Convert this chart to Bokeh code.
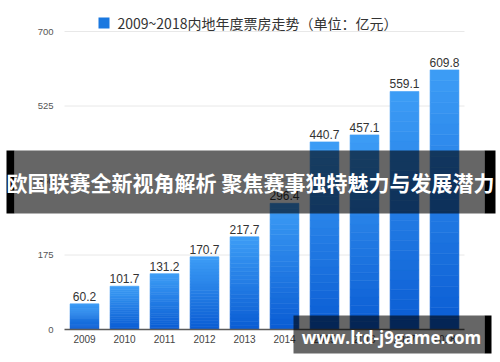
from bokeh.plotting import figure
from bokeh.models import Range1d, FixedTicker, Label, BoxAnnotation, ColumnDataSource
from bokeh.embed import file_html
from bokeh.resources import INLINE
from bokeh.core.properties import value

# ---- data ----
years = ["2009", "2010", "2011", "2012", "2013", "2014", "2015", "2016", "2017", "2018"]
box_office = [60.2, 101.7, 131.2, 170.7, 217.7, 296.4, 440.7, 457.1, 559.1, 609.8]
y_ticks = [0, 175, 350, 525, 700]
legend_text = "2009~2018内地年度票房走势（单位：亿元）"
banner_text = "欧国联赛全新视角解析 聚焦赛事独特魅力与发展潜力"
watermark_text = "www.ltd-j9game.com"

# ---- geometry (pixels) ----
W, H = 500, 362
X0_PX, PX_PER_X = 84, 40.0          # centre of first bar, px per category
Y0_PX, PX_PER_Y = 329, 298 / 700.0  # baseline, px per unit
BAR_W = 0.72

TOP_COLOR = (0x3d, 0x9d, 0xf6)
BOTTOM_COLOR = (0x0a, 0x5c, 0xd3)
N_SLICES = 24

def mix(t):
    r = [int(round(BOTTOM_COLOR[j] + (TOP_COLOR[j] - BOTTOM_COLOR[j]) * t)) for j in range(3)]
    return "#%02x%02x%02x" % tuple(r)

idx = list(range(len(years)))

left, right, bottom, top, colors = [], [], [], [], []
for i, v in zip(idx, box_office):
    for k in range(N_SLICES):
        left.append(i - BAR_W / 2)
        right.append(i + BAR_W / 2)
        bottom.append(v * k / N_SLICES)
        top.append(v * (k + 1) / N_SLICES)
        colors.append(mix((k + 0.5) / N_SLICES))
bars = ColumnDataSource(dict(left=left, right=right, bottom=bottom, top=top, color=colors))

x_range = Range1d(-X0_PX / PX_PER_X, (W - X0_PX) / PX_PER_X)
y_range = Range1d(-(H - Y0_PX) / PX_PER_Y, Y0_PX / PX_PER_Y)

p = figure(width=W, height=H, output_backend="svg", toolbar_location=None,
           x_range=x_range, y_range=y_range, min_border=0)
p.outline_line_color = None
p.background_fill_color = "white"
p.border_fill_color = "white"
p.xgrid.visible = False
p.ygrid.visible = False

# horizontal grid lines over the category span
x_lo, x_hi = -0.5, len(years) - 0.5
p.segment(x0=[x_lo] * (len(y_ticks) - 1), x1=[x_hi] * (len(y_ticks) - 1),
          y0=y_ticks[1:], y1=y_ticks[1:], line_color="#e8e8e8", line_width=1)

p.quad(left="left", right="right", bottom="bottom", top="top", source=bars,
       fill_color="color", line_color="color", line_width=0.6)

labels = ColumnDataSource(dict(x=idx, y=box_office, t=["%.1f" % v for v in box_office]))
p.text(x="x", y="y", text="t", source=labels, text_align="center", text_baseline="bottom",
       y_offset=-3, text_font=value("Liberation Sans"), text_font_size="12px", text_color="#333333")

# axes drawn at fixed locations inside the canvas
p.xaxis.fixed_location = 0
p.xaxis.bounds = (x_lo, x_hi)
p.xaxis.ticker = FixedTicker(ticks=idx)
p.xaxis.major_label_overrides = {i: y for i, y in zip(idx, years)}
p.xaxis.major_tick_line_color = None
p.xaxis.major_tick_out = 0
p.xaxis.minor_tick_line_color = None
p.xaxis.axis_line_color = "#5a5a5a"
p.xaxis.axis_line_width = 1.5
p.xaxis.major_label_standoff = 5
p.xaxis.major_label_text_font = "Liberation Sans"
p.xaxis.major_label_text_font_size = "10px"
p.xaxis.major_label_text_color = "#444444"

p.yaxis.fixed_location = x_lo
p.yaxis.bounds = (y_ticks[0], y_ticks[-1])
p.yaxis.ticker = FixedTicker(ticks=y_ticks)
p.yaxis.axis_line_color = None
p.yaxis.major_tick_line_color = None
p.yaxis.major_tick_out = 0
p.yaxis.minor_tick_line_color = None
p.yaxis.major_label_standoff = 11
p.yaxis.major_label_text_font = "Liberation Sans"
p.yaxis.major_label_text_font_size = "9.5px"
p.yaxis.major_label_text_color = "#555555"

def sbox(l, r, b, t, color, alpha, level="overlay"):
    return BoxAnnotation(left=l, right=r, bottom=b, top=t, level=level,
                         left_units="screen", right_units="screen",
                         bottom_units="screen", top_units="screen",
                         fill_color=color, fill_alpha=alpha, line_color=None)

# legend (screen px, y measured from the bottom)
p.add_layout(sbox(98, 109, H - 28, H - 17, "#1a78e0", 1.0, "annotation"))
p.add_layout(Label(x=117, y=H - 22, x_units="screen", y_units="screen", text=legend_text,
                   text_baseline="middle", text_align="left",
                   text_font="Noto Sans CJK SC", text_font_size="14px", text_color="#333333"))

# banner overlay
p.add_layout(sbox(6, 14, H - 213, H - 150, "black", 1.0))
p.add_layout(sbox(484, 495, H - 213, H - 150, "black", 1.0))
p.add_layout(sbox(14, 484, H - 213, H - 150, "black", 0.6))
p.add_layout(Label(x=250, y=H - 181, x_units="screen", y_units="screen", text=banner_text,
                   text_align="center", text_baseline="middle", level="overlay",
                   text_font="Noto Sans CJK SC", text_font_style="bold",
                   text_font_size="21px", text_color="white"))

# watermark
p.add_layout(sbox(484, 491, H - 353, H - 315, "black", 1.0))
p.add_layout(sbox(293, 484, H - 353, H - 315, "black", 0.6))
p.add_layout(Label(x=391, y=H - 337, x_units="screen", y_units="screen", text=watermark_text,
                   text_align="center", text_baseline="middle", level="overlay",
                   text_font="Open Sans", text_font_style="bold",
                   text_font_size="17px", text_color="white"))

open("out.html", "w").write(file_html(p, INLINE))
